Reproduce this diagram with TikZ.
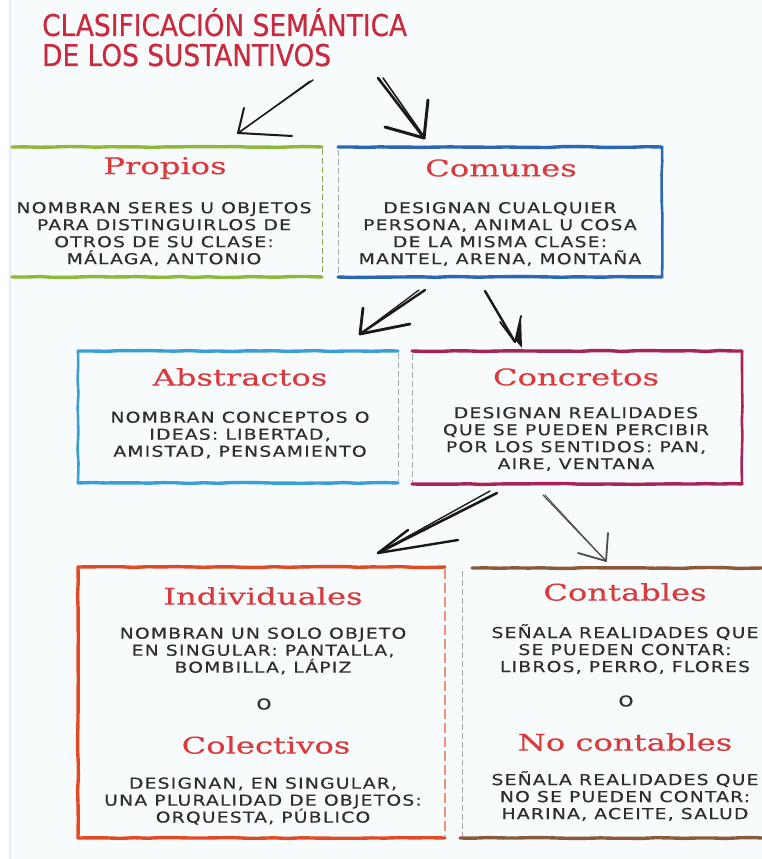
\documentclass[tikz,border=0pt]{standalone}
\usepackage{fontspec}
\usetikzlibrary{decorations.pathmorphing}
\newfontfamily\bodyfont[FakeStretch=1.25,LetterSpace=8,FakeBold=0.6]{DejaVu Sans}
\newfontfamily\headfont[FakeStretch=1.4,FakeBold=0.4]{DejaVu Serif}
\newfontfamily\maintitlefont[FakeStretch=0.88,FakeBold=0.6]{DejaVu Sans}
\definecolor{bgtint}{HTML}{F8FBFC}
\definecolor{edgeblue}{HTML}{E3EBF5}
\definecolor{titlered}{HTML}{C92A3E}
\definecolor{headred}{HTML}{D93A3E}
\definecolor{bodygray}{HTML}{2E2E2E}
\definecolor{cgreen}{HTML}{8DB83A}
\definecolor{cblue}{HTML}{2B67B5}
\definecolor{clblue}{HTML}{3A9FD5}
\definecolor{cmag}{HTML}{A8235A}
\definecolor{corange}{HTML}{E04A25}
\definecolor{cbrown}{HTML}{8A5A3A}
\definecolor{sidegray}{HTML}{A0A8B0}
\pgfmathsetseed{7}
\tikzset{
  bodytxt/.style={font=\bodyfont\fontsize{15}{17}\selectfont, text=bodygray, align=center, inner sep=0pt},
  headtxt/.style={font=\headfont\fontsize{23}{26}\selectfont, text=headred, inner sep=0pt},
  maintxt/.style={font=\maintitlefont\fontsize{30}{32}\selectfont, text=titlered, inner sep=0pt, anchor=base west},
  edge/.style={line width=3.4pt, line cap=round, decorate, decoration={random steps, segment length=14pt, amplitude=0.5pt}},
  sideline/.style={line width=0.9pt, sidegray, dash pattern=on 6pt off 3pt},
  sk/.style={black!90, line width=1.8pt, line cap=round, line join=round},
  skthin/.style={black!70, line width=1.2pt, line cap=round, line join=round}
}
\begin{document}
\begin{tikzpicture}[x=1pt,y=-1pt]
\useasboundingbox (0,0) rectangle (762,859);
\fill[bgtint] (0,0) rectangle (762,859);
\fill[white] (0,0) rectangle (9,859);
\fill[edgeblue] (9,0) rectangle (11,859);

% title
\node[maintxt] (title1) at (42,36) {CLASIFICACIÓN SEMÁNTICA};
\node[maintxt] (title2) at (42,66) {DE LOS SUSTANTIVOS};

% ---------- boxes ----------
% Propios
\draw[edge, cgreen] (12,147) -- (322,147);
\draw[edge, cgreen] (12,277) -- (322,277);
\draw[sideline, cgreen!60!gray] (322,149) -- (322,275);
\node[headtxt] (propT) at (165,168) {Propios};
\node[bodytxt] (propB) at (164,234) {NOMBRAN SERES U OBJETOS\\PARA DISTINGUIRLOS DE\\OTROS DE SU CLASE:\\MÁLAGA, ANTONIO};

% Comunes
\draw[edge, cblue] (338,147) -- (662,147);
\draw[edge, cblue] (338,277) -- (662,277);
\draw[edge, cblue, line width=2.6pt] (662,147) -- (662,277);
\draw[sideline] (338,150) -- (338,275);
\node[headtxt] (comT) at (501,168) {Comunes};
\node[bodytxt] (comB) at (500,234) {DESIGNAN CUALQUIER\\PERSONA, ANIMAL U COSA\\DE LA MISMA CLASE:\\MANTEL, ARENA, MONTAÑA};

% Abstractos
\draw[edge, clblue] (78,351) -- (398,351);
\draw[edge, clblue] (78,483) -- (398,483);
\draw[edge, clblue, line width=2.6pt] (78,351) -- (78,483);
\draw[sideline] (398,353) -- (398,481);
\node[headtxt] (absT) at (240,377) {Abstractos};
\node[bodytxt] (absB) at (240,435) {NOMBRAN CONCEPTOS O\\IDEAS: LIBERTAD,\\AMISTAD, PENSAMIENTO};

% Concretos
\draw[edge, cmag] (412,351) -- (742,351);
\draw[edge, cmag] (412,484) -- (742,484);
\draw[edge, cmag, line width=2.6pt] (742,351) -- (742,484);
\draw[sideline] (412,354) -- (412,482);
\node[headtxt] (conT) at (576,377) {Concretos};
\node[bodytxt] (conB) at (576,439) {DESIGNAN REALIDADES\\QUE SE PUEDEN PERCIBIR\\POR LOS SENTIDOS: PAN,\\AIRE, VENTANA};

% Individuales / Colectivos
\draw[edge, corange] (78,567) -- (445,567);
\draw[edge, corange] (78,838) -- (445,838);
\draw[edge, corange] (78,567) -- (78,838);
\draw[corange!60, line width=1.5pt, dash pattern=on 10pt off 4pt] (445,569) -- (445,836);
\node[headtxt] (indT) at (263,596) {Individuales};
\node[bodytxt] (indB) at (263,651) {NOMBRAN UN SOLO OBJETO\\EN SINGULAR: PANTALLA,\\BOMBILLA, LÁPIZ};
\node[bodytxt] (indO) at (264,704) {O};
\node[headtxt] (colT) at (266,745) {Colectivos};
\node[bodytxt] (colB) at (263,801) {DESIGNAN, EN SINGULAR,\\UNA PLURALIDAD DE OBJETOS:\\ORQUESTA, PÚBLICO};

% Contables / No contables
\draw[edge, cbrown] (472,568) -- (762,568);
\draw[edge, cbrown] (460,838) -- (762,838);
\draw[sideline] (462,571) -- (462,836);
\node[headtxt] (cntT) at (625,592) {Contables};
\node[bodytxt] (cntB) at (625,649) {SEÑALA REALIDADES QUE\\SE PUEDEN CONTAR:\\LIBROS, PERRO, FLORES};
\node[bodytxt] (cntO) at (626,701) {O};
\node[headtxt] (ncT) at (625,742) {No contables};
\node[bodytxt] (ncB) at (625,796) {SEÑALA REALIDADES QUE\\NO SE PUEDEN CONTAR:\\HARINA, ACEITE, SALUD};

% ---------- arrows ----------
% top-left
\coordinate (a1s) at (313,80);
\coordinate (a1t) at (238,133);
\coordinate (a1h1) at (244,108);
\coordinate (a1h2) at (292,136);
\draw[sk, line width=1.4pt] (a1s) -- (a1t);
\draw[sk, line width=1.1pt] ([xshift=-3pt,yshift=-1pt]a1s) -- ([xshift=2pt,yshift=1pt]a1t);
\draw[sk, line width=2pt] (a1h1) -- (a1t) -- (a1h2);
% top-right
\coordinate (a2s) at (378,78);
\coordinate (a2t) at (424,138);
\coordinate (a2h1) at (428,100);
\coordinate (a2h2) at (385,127);
\draw[sk, line width=2.6pt] (a2s) -- (a2t);
\draw[sk, line width=1.6pt] ([xshift=5pt]a2s) -- ([xshift=1pt]a2t);
\draw[sk, line width=3pt] (a2h1) -- (a2t) -- (a2h2);
% middle-left
\coordinate (a3s) at (425,290);
\coordinate (a3t) at (360,334);
\coordinate (a3h1) at (363,308);
\coordinate (a3h2) at (410,324);
\draw[sk, line width=2.4pt] (a3s) -- (a3t);
\draw[sk, line width=1.3pt] ([xshift=-6pt]a3s) -- (a3t);
\draw[sk, line width=2.8pt] (a3h1) -- (a3t) -- (a3h2);
% middle-right
\coordinate (a4s) at (485,291);
\coordinate (a4t) at (515,342);
\coordinate (a4h1) at (521,316);
\coordinate (a4h2) at (500,322);
\draw[sk, line width=2.4pt] (a4s) -- (a4t);
\fill[black!90] (a4h1) -- (a4t) -- (a4h2) -- ([xshift=7pt,yshift=-6pt]a4t) -- cycle;
\draw[sk, line width=1.8pt] (a4h1) -- (a4t) -- (a4h2);
% bottom-left
\coordinate (a5s) at (497,493);
\coordinate (a5t) at (378,553);
\coordinate (a5h1) at (408,530);
\coordinate (a5h2) at (458,540);
\draw[sk, line width=2.6pt] (a5s) -- (a5t);
\draw[sk, line width=1.4pt] ([xshift=-7pt,yshift=2pt]a5s) -- (a5t);
\draw[sk, line width=2.4pt] (a5h1) -- (a5t) -- (a5h2);
% bottom-right
\coordinate (a6s) at (543,495);
\coordinate (a6t) at (606,561);
\coordinate (a6h1) at (608,533);
\coordinate (a6h2) at (578,553);
\draw[skthin] (a6s) -- (a6t);
\draw[skthin, line width=0.8pt] ([xshift=2pt]a6s) -- (a6t);
\draw[skthin, line width=1.8pt] (a6h1) -- (a6t) -- (a6h2);
\end{tikzpicture}
\end{document}
